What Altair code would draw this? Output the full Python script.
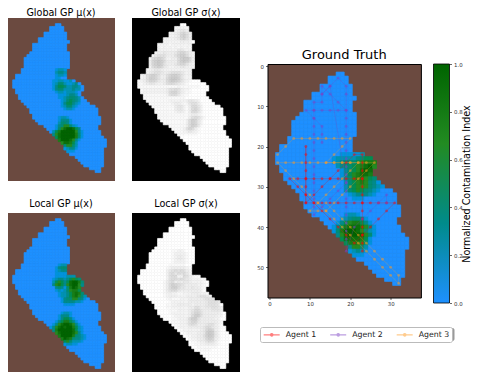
import altair as alt
import pandas as pd

FONT = "DejaVu Sans"
BROWN = "#6b4a40"
RAMP = ["#1e90ff", "#008b8b", "#228b22", "#006400"]
RAMP_STOPS = [0, 1 / 3, 2 / 3, 1]

ROW_FIRST = 2
MASK_START = [17, 15, 15, 13, 13, 11, 11, 9, 9, 9, 8, 7, 6, 6, 6, 6, 5, 5, 3, 3, 2, 2, 2, 3, 3, 4, 4, 5, 6, 7, 8, 8, 9, 9,
              10, 11, 13, 14, 15, 16, 17, 18, 19, 20, 20, 21, 22, 24, 25, 26, 27, 29, 31]
MASK_END = [19, 20, 20, 21, 21, 21, 22, 21, 21, 21, 22, 22, 22, 22, 22, 22, 21, 21, 21, 21, 24, 26, 27, 27, 26, 26, 27, 28,
            29, 31, 32, 32, 32, 33, 33, 33, 32, 32, 33, 33, 34, 35, 35, 35, 34, 34, 34, 34, 34, 34, 34, 33, 33]

TRUTH = {22: (18, "111112"), 23: (16, "1222223455"), 24: (16, "12344456777"),
         25: (17, "2344567896"), 26: (18, "13456898"), 27: (18, "13567887"), 28: (18, "134677654"),
         29: (19, "245676431"), 30: (19, "2456664321"), 31: (19, "245654321"), 32: (20, "1233321"),
         33: (21, "111"), 37: (19, "1221"), 38: (18, "1234431"), 39: (17, "135677531"),
         40: (16, "13578887631"), 41: (16, "14799986421"), 42: (17, "3689998641"), 43: (18, "58888751"),
         44: (19, "5777641"), 45: (20, "36642"), 46: (20, "12321"), 47: (21, "111")}
GLOBAL_MU = {18: (17, "1221"), 19: (17, "2332"), 20: (17, "1221"), 21: (17, "11"), 22: (16, "1122112"),
             23: (16, "124421123"), 24: (16, "1355422332"), 25: (16, "1344222322"), 26: (17, "12212221"),
             27: (18, "1112332"), 28: (18, "11234432"), 29: (19, "1245432"), 30: (19, "1355321"), 31: (19, "124421"),
             32: (20, "1221"), 35: (18, "1221"), 36: (18, "13331"), 37: (18, "24431"), 38: (17, "13466421"),
             39: (17, "146899853"), 40: (16, "25799999631"), 41: (16, "36899999741"), 42: (17, "5899999741"),
             43: (18, "79998631"), 44: (19, "688752"), 45: (20, "46642"), 46: (20, "12331"), 47: (21, "111")}
LOCAL_MU = {18: (18, "1221"), 19: (17, "13441"), 20: (17, "12331"), 21: (17, "1111"), 22: (17, "1111222"),
            23: (16, "1233235654"), 24: (16, "25653589974"), 25: (16, "36753689963"), 26: (17, "3431479863"),
            27: (17, "1212467752"), 28: (18, "1223578742"), 29: (18, "1223578642"), 30: (19, "134466431"),
            31: (19, "13333221"), 32: (20, "1111"), 35: (19, "1221"), 36: (18, "13331"), 37: (18, "135531"),
            38: (17, "13577531"), 39: (16, "1368998631"), 40: (15, "136898997521"), 41: (16, "37999998521"),
            42: (17, "6899998631"), 43: (18, "7999974321"), 44: (19, "798743321"), 45: (20, "5642221"), 46: (20, "12211")}
GLOBAL_SIGMA = {3: (15, "22222"), 4: (15, "2344321"), 5: (13, "22346753"), 6: (13, "22347863"), 7: (11, "2222346753"),
                8: (11, "2222223332"), 9: (9, "222212222222"), 10: (9, "212121212121"), 11: (9, "222222244322"),
                12: (8, "23343334677532"), 13: (7, "245553335788632"), 14: (6, "2678752233689973"),
                15: (6, "3789863333689863"), 16: (6, "3789853334677532"), 17: (6, "2678743223344322"),
                18: (5, "2234432222222222"), 19: (5, "2345543345554322"), 20: (3, "236787533578875322"),
                21: (3, "236887533689985322"), 22: (2, "1235776433689875321"), 23: (2, "112344322356654321"),
                24: (2, "1111111111111121111111"), 25: (3, "122222222355653221"), 26: (3, "122222222367753211"),
                27: (4, "1111111125664211"), 28: (4, "111111111111111"), 29: (5, "1111111122222234432"),
                30: (6, "1111111123321245531"), 31: (7, "111111113442136642"), 32: (8, "11111113442136752"),
                33: (8, "11111112332136642"), 34: (9, "1111111111123321"), 35: (9, "11111111111356531"),
                36: (10, "111111111368742"), 37: (11, "11111111368742"), 38: (13, "111111368741"),
                39: (14, "1111257631"), 40: (15, "111234321"), 41: (16, "1111111")}
LOCAL_SIGMA = {13: (14, "11221"), 14: (14, "122221"), 15: (14, "123321"), 16: (14, "123321"), 17: (14, "122221"),
               18: (13, "111111"), 19: (12, "123333321"), 20: (12, "2456565321"), 21: (12, "2564656421"),
               22: (12, "256622653211"), 23: (12, "25665654322211"), 24: (11, "135634344322221"),
               25: (11, "136876543333221"), 26: (11, "136886443343321"), 27: (11, "13566433333332"),
               28: (11, "1232211222333221"), 29: (11, "12333222333345543"), 30: (12, "121112223333345554"),
               31: (13, "122222233333345554"), 32: (12, "1122333332333345554"), 33: (12, "11222222335533445543"),
               34: (13, "1112222346643334443"), 35: (13, "1222222357753333332"), 36: (14, "122222368853333322"),
               37: (14, "11222368853333322"), 38: (14, "111223577433333321"), 39: (15, "1122356533345532"),
               40: (16, "122233333466432"), 41: (17, "12222223478732"), 42: (18, "1222233489842"),
               43: (19, "112233589842"), 44: (20, "12233478732"), 45: (21, "1123356531"), 46: (22, "112233321"),
               47: (23, "1111111"), 48: (24, "1111")}

AGENT1_X = [23, 23, 23, 23, 23, 23, 23, 23, 23, 23, 23, 23, 23, 21, 19, 17, 15, 13, 11, 9, 9, 9, 9, 9, 9, 9, 9, 9, 11, 13, 15, 17, 19, 21, 23, 25, 27, 29, 31,
            29, 27, 25, 23, 21, 19, 17, 15, 13, 11, 9, 7, 5, 7, 9, 11, 13, 15, 17, 19, 21, 23]
AGENT1_Y = [46, 44, 42, 40, 38, 36, 34, 32, 30, 28, 26, 24, 22, 22, 24, 26, 28, 30, 32, 34, 32, 30, 28, 26, 24, 22, 20, 34, 34, 34, 34, 34, 34, 34, 34, 34, 34, 34, 34,
            36, 38, 40, 42, 44, 42, 40, 38, 36, 34, 32, 30, 28, 28, 28, 28, 28, 28, 28, 28, 28, 28]
AGENT2_X = [13, 13, 13, 11, 9, 11, 13, 15, 17, 19, 17, 15, 13, 13, 13, 11, 11, 11, 11, 11, 11, 11, 11, 11, 11, 11, 11, 11, 11, 11, 13, 15, 17, 19, 19, 19, 19, 19, 19, 19, 19, 19, 19, 19, 19,
            17, 15, 13, 15, 19, 19, 19, 19, 19, 19, 19, 19, 19, 21, 23, 25, 27, 29, 29]
AGENT2_Y = [19, 17, 15, 13, 11, 11, 11, 11, 11, 11, 9, 7, 5, 7, 9, 9, 11, 13, 15, 17, 19, 21, 23, 25, 27, 29, 31, 33, 35, 37, 35, 33, 31, 29, 27, 25, 23, 21, 19, 17, 15, 13, 11, 7, 5,
            3, 5, 7, 5, 29, 31, 33, 35, 37, 39, 41, 43, 46, 40, 38, 36, 34, 32, 34]
AGENT3_X = [2, 4, 6, 8, 10, 12, 14, 16, 18, 20, 18, 16, 14, 16, 18, 20, 22, 24, 26, 24, 22, 20, 18, 16, 14, 12, 10, 12, 14, 16, 18, 20, 22, 20, 18, 16, 14, 12, 10, 8, 6, 4, 2,
            4, 6, 8, 10, 12, 14, 16, 18, 20, 22, 24, 26, 28, 30, 32, 32, 30, 28, 26, 24, 22, 20, 18, 16, 14]
AGENT3_Y = [22, 20, 18, 18, 18, 18, 18, 18, 18, 18, 20, 22, 24, 24, 24, 24, 24, 24, 24, 26, 28, 30, 32, 34, 36, 36, 36, 34, 32, 30, 28, 26, 24, 24, 24, 24, 24, 24, 24, 24, 24, 24, 24,
            26, 28, 30, 32, 34, 36, 38, 40, 42, 44, 46, 48, 50, 52, 54, 52, 50, 48, 46, 44, 42, 40, 38, 36, 34]
AGENTS = ["Agent 1", "Agent 2", "Agent 3"]
AGENT_COLORS = ["#ff0000", "#7b3fc4", "#ff9a1f"]
TITLES = ["Global GP μ(x)", "Global GP σ(x)", "Local GP μ(x)", "Local GP σ(x)"]
XTICKS = [0, 5, 10, 15, 20, 25, 30, 35]
YTICKS = [0, 10, 20, 30, 40, 50]
CTICKS = [0.0, 0.2, 0.4, 0.6, 0.8, 1.0]


def cells(patches, sigma=False):
    rows = []
    for i, (a, b) in enumerate(zip(MASK_START, MASK_END)):
        r = ROW_FIRST + i
        start, digits = patches.get(r, (0, ""))
        for c in range(a, b):
            d = int(digits[c - start]) if start <= c < start + len(digits) else 0
            v = 1 - 0.02 * d if sigma else d / 9
            rows.append({"x0": c - 0.5, "x1": c + 0.5, "y0": r - 0.5, "y1": r + 0.5, "v": v})
    return pd.DataFrame(rows)


MEAN_SCALE = alt.Scale(domain=RAMP_STOPS, range=RAMP, clamp=True)
GREY_SCALE = alt.Scale(domain=[0, 1], range=["#000000", "#ffffff"])
XS = alt.Scale(domain=[-0.5, 37.5], nice=False, zero=False)
YS = alt.Scale(domain=[57.5, -0.5], nice=False, zero=False)


def image_layer(df, scale, xaxis=None, yaxis=None):
    return alt.Chart(df).mark_rect(strokeWidth=0.7).encode(
        x=alt.X("x0:Q", scale=XS, axis=xaxis, title=None),
        x2="x1:Q",
        y=alt.Y("y0:Q", scale=YS, axis=yaxis, title=None),
        y2="y1:Q",
        fill=alt.Fill("v:Q", scale=scale, legend=None),
        stroke=alt.Stroke("v:Q", scale=scale, legend=None),
    )


def panel(df, scale, title, bg, h, offset):
    return image_layer(df, scale).properties(
        width=108, height=h,
        title=alt.TitleParams(title, fontSize=9.6, fontWeight="normal", font=FONT, offset=offset),
        view=alt.ViewBackground(fill=bg, strokeWidth=0),
    )


p1 = panel(cells(GLOBAL_MU), MEAN_SCALE, TITLES[0], BROWN, 163, 0)
p2 = panel(cells(GLOBAL_SIGMA, True), GREY_SCALE, TITLES[1], "#000000", 163, 0)
p3 = panel(cells(LOCAL_MU), MEAN_SCALE, TITLES[2], BROWN, 164, 4)
p4 = panel(cells(LOCAL_SIGMA, True), GREY_SCALE, TITLES[3], "#000000", 164, 4)

tracks = pd.concat([
    pd.DataFrame({"x": AGENT1_X, "y": AGENT1_Y, "agent": AGENTS[0]}),
    pd.DataFrame({"x": AGENT2_X, "y": AGENT2_Y, "agent": AGENTS[1]}),
    pd.DataFrame({"x": AGENT3_X, "y": AGENT3_Y, "agent": AGENTS[2]}),
]).reset_index(names="step")

AXIS_STYLE = dict(labelFontSize=5.4, labelColor="#333333", labelFont=FONT, tickSize=2, tickWidth=0.6, tickColor="#000000",
                  grid=False, domain=False, labelPadding=2)
x_axis = alt.Axis(values=XTICKS, format="d", labelAngle=0, **AXIS_STYLE)
y_axis = alt.Axis(values=YTICKS, format="d", **AXIS_STYLE)
agent_color = alt.Color("agent:N", scale=alt.Scale(domain=AGENTS, range=AGENT_COLORS), legend=alt.Legend(
    orient="none", legendX=253, legendY=309, direction="horizontal", columns=3, title=None,
    fillColor="#ffffff", strokeColor="#bbbbbb", padding=2.7, cornerRadius=2,
    labelFontSize=7.8, labelFont=FONT, labelColor="#222222", symbolSize=64, columnPadding=10.5, labelOffset=13,
    symbolOpacity=0.5, symbolStrokeWidth=1.3,
    symbolType="M-1,0H3M0.7,0a.3,.3 0 1,0 .6,0a.3,.3 0 1,0 -.6,0",
))
lines = alt.Chart(tracks).mark_line(strokeWidth=0.9, opacity=0.3).encode(
    x=alt.X("x:Q", scale=XS), y=alt.Y("y:Q", scale=YS), order="step:Q", color=agent_color)
dots = alt.Chart(tracks).mark_circle(size=8, opacity=0.5).encode(
    x=alt.X("x:Q", scale=XS), y=alt.Y("y:Q", scale=YS), color=agent_color)

truth = alt.layer(image_layer(cells(TRUTH), MEAN_SCALE, x_axis, y_axis), lines, dots).properties(
    width=153.4, height=233.5,
    title=alt.TitleParams("Ground Truth", fontSize=13, fontWeight="normal", font=FONT, offset=2),
    view=alt.ViewBackground(fill=BROWN, stroke="#000000", strokeWidth=1),
)

bar_df = pd.DataFrame({"lo": [0.0], "hi": [1.0]})
bar = alt.Chart(bar_df).mark_rect(
    stroke="#000000", strokeWidth=0.8,
    color=alt.Gradient(gradient="linear", x1=0, x2=0, y1=1, y2=0,
                       stops=[alt.GradientStop(color=c, offset=o) for c, o in zip(RAMP, RAMP_STOPS)]),
).encode(
    y=alt.Y("lo:Q", scale=alt.Scale(domain=[0, 1], nice=False), axis=alt.Axis(
        orient="right", values=CTICKS, format=".1f", title="Normalized Contamination Index", titleFontSize=9.6,
        titleFontWeight="normal", titleFont=FONT, titleAngle=270, titlePadding=9, titleColor="#000000", titleBaseline="bottom", **AXIS_STYLE)),
    y2="hi:Q",
).properties(width=16, height=239, view=alt.ViewBackground(strokeWidth=0))

spacer_df = pd.DataFrame({"a": [0]})


def spacer(h):
    return alt.Chart(spacer_df).mark_rect(opacity=0).encode(x=alt.value(0)).properties(
        width=1, height=h, view=alt.ViewBackground(strokeWidth=0))


legend_shadow = alt.Chart(spacer_df).mark_rect(color="#9a9a9a", cornerRadius=2).encode(
    x=alt.value(-6.5), x2=alt.value(187), y=alt.value(0), y2=alt.value(13),
).properties(width=187, height=13, view=alt.ViewBackground(strokeWidth=0))

RES = dict(fill="independent", stroke="independent")
top_row = alt.hconcat(p1, p2, spacing=17).resolve_scale(**RES)
bottom_row = alt.hconcat(p3, p4, spacing=17).resolve_scale(**RES)
left = alt.vconcat(top_row, bottom_row, spacing=18).resolve_scale(**RES)
plots = alt.hconcat(alt.vconcat(spacer(30), truth, spacing=0), alt.vconcat(spacer(44), bar, spacing=0), spacing=11)
right = alt.vconcat(plots, legend_shadow, spacing=20)

chart = alt.hconcat(left, right, spacing=15.5).resolve_scale(**RES).properties(
    padding={"left": -1, "top": 0, "right": 0, "bottom": -5}
).configure(font=FONT).configure_concat(spacing=0)

chart.save("out.html", embed_options={"renderer": "svg", "actions": False})
